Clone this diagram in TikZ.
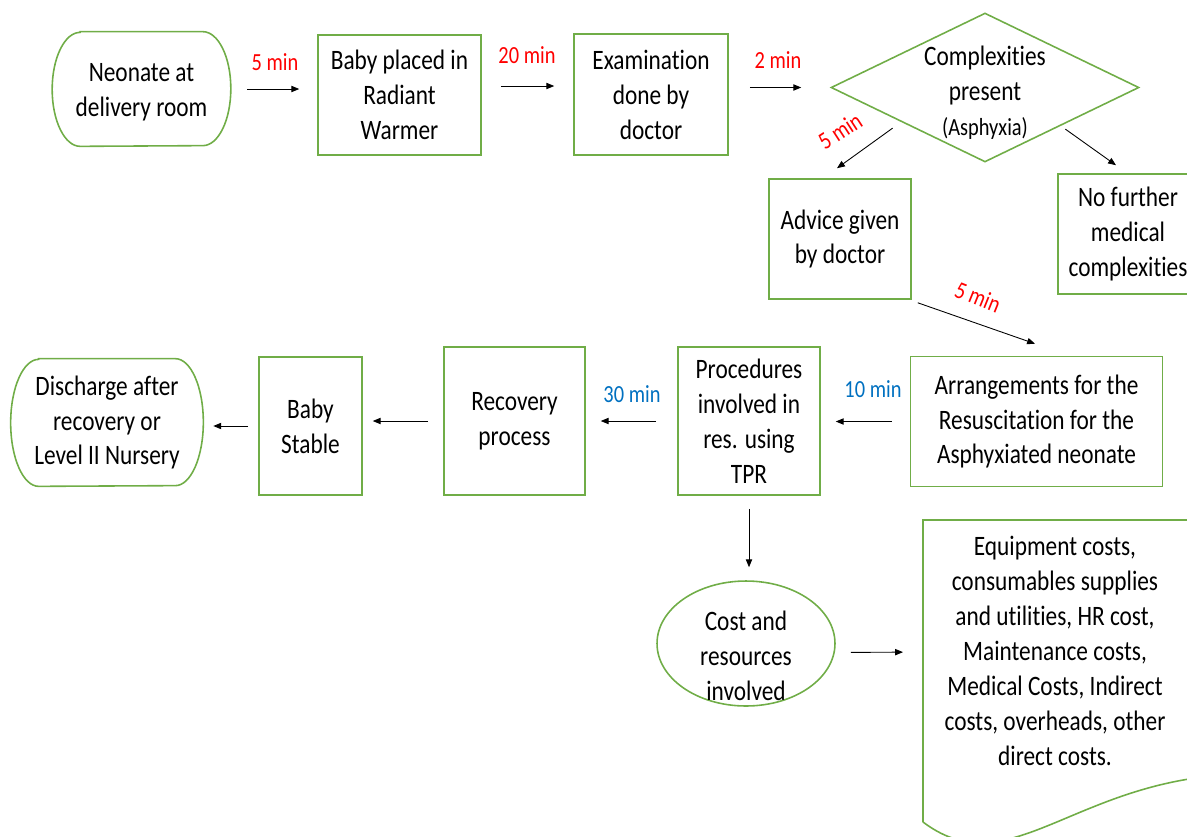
\documentclass[tikz,border=0pt]{standalone}
\usepackage{fontspec}
\setmainfont{Carlito}[FakeStretch=0.83, RawFeature={-liga;-clig;-calt;-dlig}]
\usetikzlibrary{shapes.geometric,arrows.meta}

\definecolor{boxgreen}{HTML}{70AD47}
\definecolor{timered}{HTML}{FF0000}
\definecolor{timeblue}{HTML}{0070C0}

\tikzset{
  boxline/.style={draw=boxgreen, line width=0.9pt},
  box/.style={boxline, align=center, inner sep=0pt, font=\fontsize{16}{19.9}\selectfont},
  txt/.style={align=center, inner sep=0pt, font=\fontsize{16}{19.9}\selectfont},
  arr/.style={-{Triangle[length=4.5pt,width=3.6pt]}, line width=0.5pt},
  redtime/.style={text=timered, inner sep=0pt, font=\fontsize{14}{16}\selectfont},
  bluetime/.style={text=timeblue, inner sep=0pt, font=\fontsize{14}{16}\selectfont},
}

\begin{document}
\begin{tikzpicture}[x=0.02cm, y=-0.02cm]
      \useasboundingbox (0,0) rectangle (1187,836);
      \clip (0,0) rectangle (1187,836);

      % top row
      \node[txt, minimum width=3.56cm, minimum height=2.28cm] (start) at (141.5,89) {};
      \node[txt] (starttxt) at (141.5,92) {Neonate at\\delivery room};
      \node[box, minimum width=3.26cm, minimum height=2.4cm] (warm) at (399.5,95) {Baby placed in\\Radiant\\Warmer};
      \node[box, minimum width=3.08cm, minimum height=2.42cm] (exam) at (651,94.5) {Examination\\done by\\doctor};
      \node[boxline, diamond, minimum width=6.16cm, minimum height=2.98cm, inner sep=0pt] (cplx) at (985,87.5) {};
      \node[txt] (cplxtxt) at (985,92.5) {Complexities\\present\\{\fontsize{14}{16}\selectfont(Asphyxia)}};

      \node[box, minimum width=2.84cm, minimum height=2.4cm] (adv) at (840,239) {Advice given\\by doctor};
      \node[box, minimum width=2.8cm, minimum height=2.4cm] (nof) at (1128,234) {No further\\medical\\complexities};

      % middle row
      \node[box, minimum width=5.04cm, minimum height=2.6cm] (arr) at (1036.5,421.5) {Arrangements for the\\Resuscitation for the\\Asphyxiated neonate};
      \node[box, minimum width=2.84cm, minimum height=2.96cm] (proc) at (749,421) {Procedures\\involved in\\res. using\\TPR};
      \node[box, minimum width=2.82cm, minimum height=2.96cm] (recov) at (514.5,421) {Recovery\\process};
      \node[box, minimum width=2.06cm, minimum height=2.76cm] (stable) at (310.5,426) {Baby\\Stable};
      \node[txt, minimum width=3.84cm, minimum height=2.54cm] (disch) at (107,422.5) {Discharge after\\recovery or\\Level II Nursery};

      % bottom
      \node[boxline, ellipse, minimum width=3.56cm, minimum height=2.5cm] (cost) at (746,643.5) {};
      \node[txt] (costtxt) at (746,656) {Cost and\\resources\\involved};
      \node[txt] (docs) at (1055,651) {Equipment costs,\\consumables supplies\\and utilities, HR cost,\\Maintenance costs,\\Medical Costs, Indirect\\costs, overheads, other\\direct costs.};
      \coordinate (docW) at (923,652);
      \draw[boxline] (923,822) -- (923,520) -- (1189,520) -- (1189,779)
        .. controls (1060,800) and (1000,880) .. (923,822);

      % terminal outlines
      \foreach \nd/\ry in {start/1.14cm, disch/1.27cm}
      \draw[boxline] ([xshift=0.56cm]\nd.north west) -- ([xshift=-0.56cm]\nd.north east)
        arc[start angle=90, end angle=-90, x radius=0.56cm, y radius=\ry]
        -- ([xshift=0.56cm]\nd.south west)
        arc[start angle=270, end angle=90, x radius=0.56cm, y radius=\ry] -- cycle;

      % connectors
      \draw[arr, shorten <=0.33cm, shorten >=0.36cm] (start.east) -- (start.east -| warm.west);
      \draw[arr, shorten <=0.38cm, shorten >=0.38cm] ([yshift=0.18cm]warm.east) -- ([yshift=0.18cm]warm.east -| exam.west);
      \draw[arr, shorten <=0.42cm, shorten >=0.58cm] (cplx.west -| exam.east) -- (cplx.west);
      \draw[arr] ([shift={(-15,3)}]cplx.south west) -- ([shift={(-3,-10)}]adv.north);
      \draw[arr] ([shift={(3,4)}]cplx.south east) -- ([shift={(-12,-8)}]nof.north);
      \draw[arr] ([shift={(6,3)}]adv.south east) -- ([shift={(-1.5,-12)}]arr.north);
      \draw[arr, shorten <=0.36cm, shorten >=0.3cm] (arr.west) -- (arr.west -| proc.east);
      \draw[arr, shorten <=0.42cm, shorten >=0.3cm] (proc.west) -- (proc.west -| recov.east);
      \draw[arr, shorten <=0.3cm, shorten >=0.2cm] (recov.west) -- (recov.west -| stable.east);
      \draw[arr, shorten <=0.2cm, shorten >=0.2cm] (stable.west) -- (stable.west -| disch.east);
      \draw[arr, shorten <=0.26cm, shorten >=0.26cm] (proc.south) -- (proc.south |- cost.north);
      \draw[arr, shorten <=0.3cm, shorten >=0.4cm] ([yshift=-0.18cm]cost.east) -- (docW);

      % times
      \node[redtime] (t1) at (275,62) {5 min};
      \node[redtime] (t2) at (527,55) {20 min};
      \node[redtime] (t3) at (778,60) {2 min};
      \node[redtime, rotate=33] (t4) at (840,131) {5 min};
      \node[redtime, rotate=-22] (t5) at (978,297) {5 min};
      \node[bluetime] (t6) at (873,389) {10 min};
      \node[bluetime] (t7) at (632,394) {30 min};
    \end{tikzpicture}
\end{document}
